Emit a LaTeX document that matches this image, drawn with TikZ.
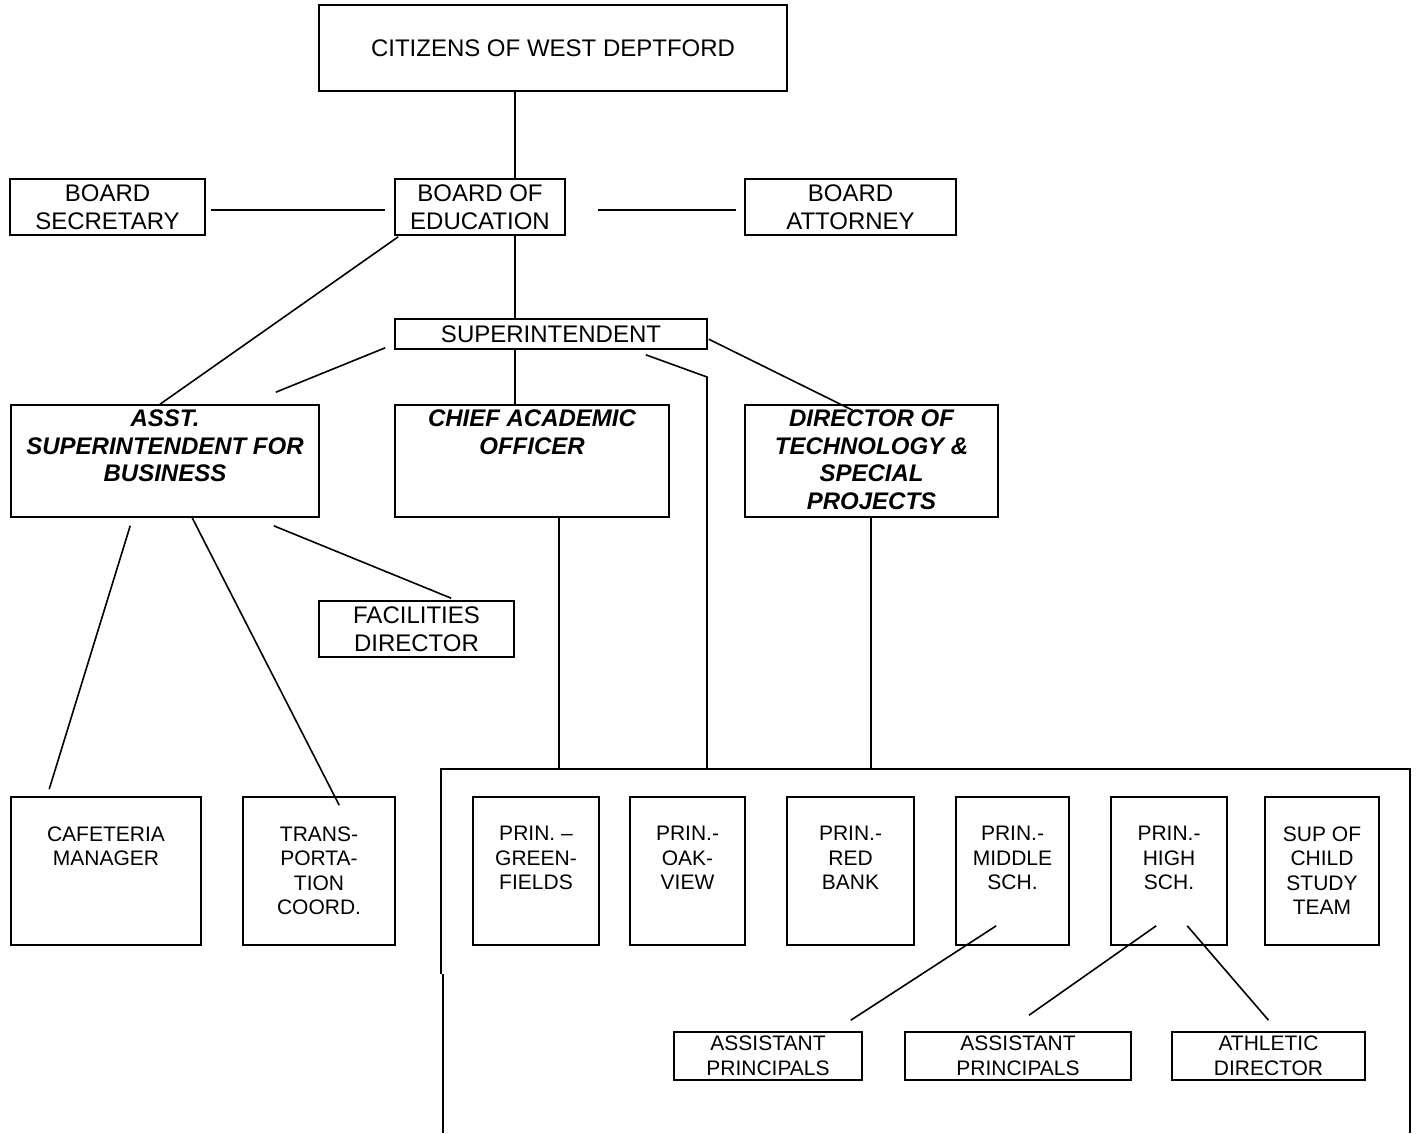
\documentclass[tikz,border=0pt]{standalone}
\usepackage{fontspec}
\setmainfont{Liberation Sans}
\usetikzlibrary{calc}
\newcommand\myBig{\fontsize{24}{27.5}\selectfont}
\newcommand\mySmall{\fontsize{21}{24.5}\selectfont}
\begin{document}
\begin{tikzpicture}[x=1pt,y=-1pt,
  box/.style={draw, line width=1.6pt, inner sep=0pt, align=center, font=\myBig},
  sbox/.style={box, font=\mySmall},
  toptxt/.style={anchor=north, inner sep=0pt, align=center, font=\myBig\bfseries\itshape},
  lowtxt/.style={anchor=north, inner sep=0pt, align=center, font=\mySmall},
  conn/.style={line width=1.6pt}]
\useasboundingbox (0,0) rectangle (1416,1133);
\fill[white] (0,0) rectangle (1416,1133);
% top level
\node[box, minimum width=468, minimum height=86] (cit) at (553,48) {CITIZENS OF WEST DEPTFORD};
\node[box, minimum width=195, minimum height=56] (bsec) at (107.5,207) {BOARD\\SECRETARY};
\node[box, minimum width=170, minimum height=56] (boe) at (480,207) {BOARD OF\\EDUCATION};
\node[box, minimum width=211, minimum height=56] (batt) at (850.5,207) {BOARD\\ATTORNEY};
\node[box, minimum width=312, minimum height=30] (sup) at (551,334) {SUPERINTENDENT};
% second level
\node[box, minimum width=308, minimum height=112] (asst) at (165,461) {};
\node[toptxt] (asstT) at ($(asst.north)+(0,5.5)$) {ASST.\\SUPERINTENDENT FOR\\BUSINESS};
\node[box, minimum width=274, minimum height=112] (cao) at (532,461) {};
\node[toptxt] (caoT) at ($(cao.north)+(0,5.5)$) {CHIEF ACADEMIC\\OFFICER};
\node[box, minimum width=253, minimum height=112] (dir) at (871.5,461) {};
\node[toptxt] (dirT) at ($(dir.north)+(0,5.5)$) {DIRECTOR OF\\TECHNOLOGY \&\\SPECIAL\\PROJECTS};
\node[box, minimum width=195, minimum height=56] (fac) at (416.5,629) {FACILITIES\\DIRECTOR};
% lower boxes
\node[box, minimum width=190, minimum height=148] (caf) at (106,871) {};
\node[lowtxt] (cafT) at ($(caf.north)+(0,30)$) {CAFETERIA\\MANAGER};
\node[box, minimum width=152, minimum height=148] (trans) at (319,871) {};
\node[lowtxt] (transT) at ($(trans.north)+(0,30)$) {TRANS-\\PORTA-\\TION\\COORD.};
\node[box, minimum width=126, minimum height=148] (pg) at (536,871) {};
\node[lowtxt] (pgT) at ($(pg.north)+(0,30)$) {PRIN. –\\GREEN-\\FIELDS};
\node[box, minimum width=115, minimum height=148] (po) at (687.5,871) {};
\node[lowtxt] (poT) at ($(po.north)+(0,30)$) {PRIN.-\\OAK-\\VIEW};
\node[box, minimum width=127, minimum height=148] (pr) at (850.5,871) {};
\node[lowtxt] (prT) at ($(pr.north)+(0,30)$) {PRIN.-\\RED\\BANK};
\node[box, minimum width=113, minimum height=148] (pm) at (1012.5,871) {};
\node[lowtxt] (pmT) at ($(pm.north)+(0,30)$) {PRIN.-\\MIDDLE\\SCH.};
\node[box, minimum width=116, minimum height=148] (ph) at (1169,871) {};
\node[lowtxt] (phT) at ($(ph.north)+(0,30)$) {PRIN.-\\HIGH\\SCH.};
\node[box, minimum width=114, minimum height=148] (sc) at (1322,871) {};
\node[lowtxt] (scT) at ($(sc.north)+(0,30)$) {SUP OF\\CHILD\\STUDY\\TEAM};
\node[sbox, minimum width=188, minimum height=48] (ap1) at (768,1056) {ASSISTANT\\PRINCIPALS};
\node[sbox, minimum width=226, minimum height=48] (ap2) at (1018,1056) {ASSISTANT\\PRINCIPALS};
\node[sbox, minimum width=193, minimum height=48] (ath) at (1268.5,1056) {ATHLETIC\\DIRECTOR};
% big open frame
\coordinate (bbl) at (441,974);
\coordinate (bbtl) at (441,769);
\coordinate (bbtr) at (1410,769);
\coordinate (bbr) at (1410,1133);
\coordinate (bbl2) at (443,974);
\coordinate (bbl3) at (443,1133);
\draw[conn] (bbl) -- (bbtl) -- (bbtr) -- (bbr);
\draw[conn] (bbl2) -- (bbl3);
% connectors
\coordinate (spine) at (515,0);
\draw[conn] (cit.south -| spine) -- (boe.north -| spine);
\draw[conn] (boe.south -| spine) -- (sup.north -| spine);
\draw[conn] (sup.south -| spine) -- (cao.north -| spine);
\draw[conn] ($(bsec.east)+(5,3)$) -- ($(boe.west)+(-9,3)$);
\draw[conn] ($(boe.east)+(32,3)$) -- ($(batt.west)+(-8,3)$);
\draw[conn] ($(boe.south west)+(4,1)$) -- ($(asst.north)+(-5,0)$);
\draw[conn] ($(sup.south west)+(-9,-2)$) -- ($(asst.north east)+(-44,-12)$);
\coordinate (sbend) at (707,377);
\draw[conn] ($(sup.south east)+(-62,5)$) -- (sbend) -- (sbend |- bbtl);
\draw[conn] ($(sup.north east)+(1,21)$) -- ($(dir.north)+(-19,6)$);
\coordinate (caoDrop) at (559,517);
\draw[conn] (caoDrop) -- (caoDrop |- bbtl);
\coordinate (dirDrop) at (871,517);
\draw[conn] (dirDrop) -- (dirDrop |- bbtl);
\draw[conn] ($(asst.south west)+(120,8)$) -- ($(caf.north west)+(39,-7)$);
\draw[conn] ($(asst.south west)+(182,0)$) -- ($(trans.north west)+(97,9)$);
\draw[conn] ($(asst.south east)+(-46,8)$) -- ($(fac.north west)+(133,-2)$);
\draw[conn] ($(pm.south west)+(41,-20)$) -- ($(ap1.north east)+(-12,-11)$);
\draw[conn] ($(ph.south west)+(46,-20)$) -- ($(ap2.north)+(11,-16)$);
\draw[conn] ($(ph.south west)+(77,-20)$) -- ($(ath.north)+(0,-11)$);
\end{tikzpicture}
\end{document}
